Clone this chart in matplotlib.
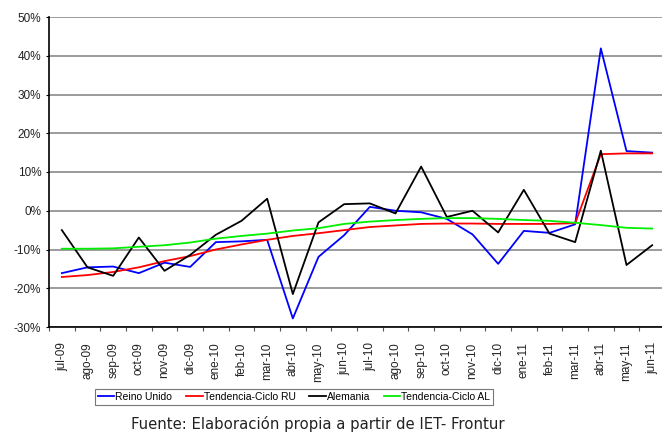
import numpy as np
import matplotlib
matplotlib.use('Agg')
import matplotlib.pyplot as plt
from matplotlib.ticker import FuncFormatter

meses = ['jul-09', 'ago-09', 'sep-09', 'oct-09', 'nov-09', 'dic-09',
         'ene-10', 'feb-10', 'mar-10', 'abr-10', 'may-10', 'jun-10',
         'jul-10', 'ago-10', 'sep-10', 'oct-10', 'nov-10', 'dic-10',
         'ene-11', 'feb-11', 'mar-11', 'abr-11', 'may-11', 'jun-11']

reino_unido = [-16.1, -14.6, -14.4, -16.1, -13.4, -14.5, -8.1, -7.9, -7.5,
               -27.8, -11.9, -6.3, 1.0, 0.0, -0.4, -2.1, -6.1, -13.7,
               -5.2, -5.7, -3.5, 41.9, 15.4, 15.0]
tendencia_ru = [-17.1, -16.6, -15.8, -14.6, -13.0, -11.7, -10.0, -8.7, -7.5,
                -6.5, -5.8, -5.0, -4.2, -3.8, -3.4, -3.3, -3.3, -3.4,
                -3.4, -3.4, -3.2, 14.6, 14.8, 14.8]
alemania = [-5.0, -14.6, -16.8, -6.9, -15.5, -11.4, -6.2, -2.6, 3.1,
            -21.5, -3.0, 1.7, 1.9, -0.7, 11.4, -1.6, 0.0, -5.6,
            5.4, -5.9, -8.1, 15.5, -14.0, -8.9]
tendencia_al = [-9.8, -9.8, -9.7, -9.3, -8.9, -8.2, -7.2, -6.5, -5.9,
                -5.1, -4.5, -3.4, -2.8, -2.4, -2.1, -1.9, -1.9, -2.1,
                -2.4, -2.6, -3.1, -3.7, -4.4, -4.6]

plt.rcParams['font.family'] = ['Liberation Sans', 'DejaVu Sans']

fig = plt.figure(figsize=(6.62, 4.33), dpi=100)
ax = fig.add_axes([49 / 662, 1 - 327 / 433, 616 / 662, 310 / 433])

x = np.arange(len(meses))
ax.plot(x, reino_unido, color='#0000ff', lw=1.3, label='Reino Unido')
ax.plot(x, tendencia_ru, color='#ff0000', lw=1.3, label='Tendencia-Ciclo RU')
ax.plot(x, alemania, color='#000000', lw=1.3, label='Alemania')
ax.plot(x, tendencia_al, color='#00ee00', lw=1.3, label='Tendencia-Ciclo AL')

ax.set_xlim(-0.5, len(meses) - 0.5)
ax.set_ylim(-30, 50)
ax.set_yticks(np.arange(-30, 51, 10))
ax.yaxis.set_major_formatter(FuncFormatter(lambda v, p: '%d%%' % v))
ax.grid(axis='y', color='#808080', lw=1.1)
ax.set_axisbelow(True)

ax.set_xticks(x)
ax.set_xticklabels(meses, rotation=90)
ax.set_xticks(np.arange(-0.5, len(meses), 1), minor=True)
ax.tick_params(axis='x', which='major', length=0, pad=11, labelsize=8.5,
               labelcolor='#222222')
ax.tick_params(axis='x', which='minor', length=3, width=0.8, color='#555555')
ax.tick_params(axis='y', length=2, width=0.8, labelsize=8.5, labelcolor='#222222')

for s in ['top', 'right']:
    ax.spines[s].set_visible(False)
ax.spines['left'].set_linewidth(1.2)
ax.spines['bottom'].set_linewidth(1.2)

leg = fig.legend(loc='center', bbox_to_anchor=(294 / 662, 1 - 397 / 433),
                 ncol=4, fontsize=7.5, frameon=True, fancybox=False,
                 handlelength=1.6, handletextpad=0.1, columnspacing=1.3,
                 borderpad=0.3, edgecolor='#555555')
leg.get_frame().set_linewidth(0.8)

fig.text(318 / 662, 1 - 424 / 433, 'Fuente: Elaboración propia a partir de IET- Frontur',
         ha='center', va='center', fontsize=10.7, family='DejaVu Sans',
         color='#222222')

fig.savefig('out.png', dpi=100)
